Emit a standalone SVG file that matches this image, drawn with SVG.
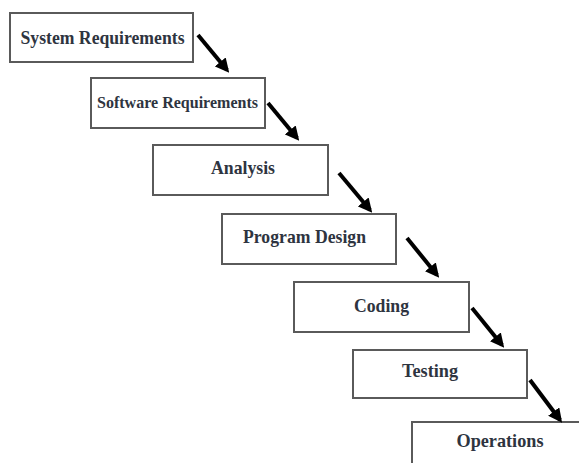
<svg xmlns="http://www.w3.org/2000/svg" width="579" height="463" viewBox="0 0 579 463">
<style>
.box{fill:#ffffff;stroke:#5a5a5a;stroke-width:2}
.lbl{font-family:"Liberation Serif","Times New Roman",serif;font-weight:bold;font-size:19px;fill:#2e3440;text-anchor:middle}
.conn line{stroke:#000;stroke-width:4}
</style>
<defs>
<marker id="ah" viewBox="0 0 12 12" refX="9" refY="6" markerWidth="14" markerHeight="14" markerUnits="userSpaceOnUse" orient="auto">
<path d="M0,0 L12,6 L0,12 z" fill="#000"/>
</marker>
</defs>
<rect width="579" height="463" fill="#ffffff"/>
<g id="n1"><rect class="box" x="10" y="13" width="183" height="49"/><text class="lbl" x="102.5" y="44" textLength="164" lengthAdjust="spacingAndGlyphs">System Requirements</text></g>
<g id="n2"><rect class="box" x="91" y="78" width="174" height="50"/><text class="lbl" x="177.5" y="108" style="font-size:17.5px" textLength="161" lengthAdjust="spacingAndGlyphs">Software Requirements</text></g>
<g id="n3"><rect class="box" x="153" y="145" width="175" height="50"/><text class="lbl" x="243" y="174" textLength="64" lengthAdjust="spacingAndGlyphs">Analysis</text></g>
<g id="n4"><rect class="box" x="222" y="214" width="174" height="50"/><text class="lbl" x="304.5" y="243" textLength="123" lengthAdjust="spacingAndGlyphs">Program Design</text></g>
<g id="n5"><rect class="box" x="294" y="282" width="175" height="50"/><text class="lbl" x="381.5" y="312" textLength="55" lengthAdjust="spacingAndGlyphs">Coding</text></g>
<g id="n6"><rect class="box" x="353" y="350" width="174" height="48"/><text class="lbl" x="430" y="377" textLength="56" lengthAdjust="spacingAndGlyphs">Testing</text></g>
<g id="n7"><rect class="box" x="412" y="422" width="180" height="60"/><text class="lbl" x="500" y="447" textLength="87" lengthAdjust="spacingAndGlyphs">Operations</text></g>
<g id="connectors" class="conn">
<line x1="198" y1="35" x2="227" y2="70" marker-end="url(#ah)"/>
<line x1="268" y1="103" x2="297" y2="138" marker-end="url(#ah)"/>
<line x1="339" y1="173" x2="370" y2="210" marker-end="url(#ah)"/>
<line x1="407" y1="238" x2="437" y2="275" marker-end="url(#ah)"/>
<line x1="472" y1="308" x2="502" y2="345" marker-end="url(#ah)"/>
<line x1="530" y1="380" x2="560" y2="420" marker-end="url(#ah)"/>
</g>
</svg>
